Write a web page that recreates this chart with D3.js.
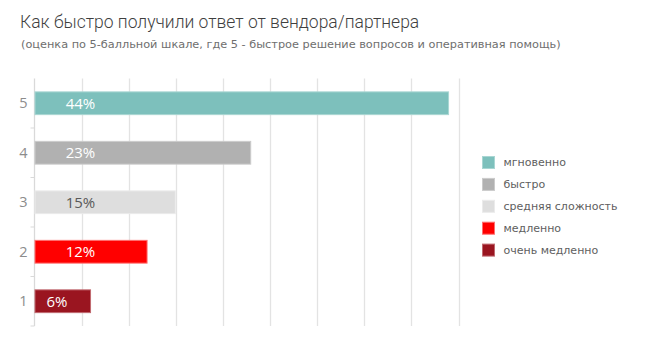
<!DOCTYPE html>
<html>
<head>
<meta charset="utf-8">
<script src="https://cdn.jsdelivr.net/npm/d3@7"></script>
<style>
  html, body { margin: 0; padding: 0; background: #fff; }
  svg { display: block; }
</style>
</head>
<body>
<svg id="chart" width="650" height="348"></svg>
<script>
// Ratings on a 5-point scale and the share of answers for each
const ratings = ["5", "4", "3", "2", "1"];
const shares = [44, 23, 15, 12, 6];
const legendNames = ["мгновенно", "быстро", "средняя сложность", "медленно", "очень медленно"];
const fills = ["#7dc0bc", "#b1b1b1", "#dedede", "#ff0000", "#9a1520"];
const strokes = ["#a9d6d3", "#cbcbcb", "#ebebeb", "#ff7070", "#c06a70"];
const labelColors = ["#ffffff", "#ffffff", "#595959", "#ffffff", "#ffffff"];
const xTicks = d3.range(0, 46, 5);

const svg = d3.select("#chart");

svg.append("text")
  .attr("x", 20).attr("y", 28)
  .attr("font-family", "Roboto, 'Open Sans', sans-serif")
  .attr("font-weight", 300)
  .attr("font-size", 17.5)
  .attr("fill", "#3f3f3f")
  .text("Как быстро получили ответ от вендора/партнера");

svg.append("text")
  .attr("x", 21).attr("y", 47.5)
  .attr("font-family", "'DejaVu Sans', sans-serif")
  .attr("font-size", 11.3)
  .attr("fill", "#6e6e6e")
  .text("(оценка по 5-балльной шкале, где 5 - быстрое решение вопросов и оперативная помощь)");

const plot = { left: 34.5, right: 458.5, top: 78.5, bottom: 326 };

const x = d3.scaleLinear().domain([0, 45]).range([plot.left, plot.right]);
const y = d3.scaleBand().domain(ratings).range([plot.top, plot.bottom]).paddingInner(0.54).paddingOuter(0.27);
const yTicks = d3.scaleBand().domain(ratings).range([plot.top, plot.bottom]);

// vertical gridlines
svg.append("g")
  .selectAll("line")
  .data(xTicks.slice(1))
  .join("line")
  .attr("x1", d => Math.round(x(d)) + 0.5)
  .attr("x2", d => Math.round(x(d)) + 0.5)
  .attr("y1", plot.top)
  .attr("y2", plot.bottom)
  .attr("stroke", "#e3e3e3")
  .attr("stroke-width", 1.3);

// left axis line with category ticks
const axis = svg.append("g");
axis.append("line")
  .attr("x1", plot.left).attr("x2", plot.left)
  .attr("y1", plot.top).attr("y2", plot.bottom)
  .attr("stroke", "#d9d9d9").attr("stroke-width", 1.3);
axis.selectAll("line.tick")
  .data(ratings)
  .join("line")
  .attr("class", "tick")
  .attr("x1", plot.left - 4).attr("x2", plot.left)
  .attr("y1", d => yTicks(d) + yTicks.bandwidth())
  .attr("y2", d => yTicks(d) + yTicks.bandwidth())
  .attr("stroke", "#d9d9d9").attr("stroke-width", 1);
axis.selectAll("text")
  .data(ratings)
  .join("text")
  .attr("x", plot.left - 7)
  .attr("y", d => y(d) + y.bandwidth() / 2)
  .attr("dy", "0.36em")
  .attr("text-anchor", "end")
  .attr("font-family", "'Open Sans', sans-serif")
  .attr("font-size", 14.5)
  .attr("fill", "#8c8c8c")
  .text(d => d);

// bars
svg.append("g")
  .selectAll("rect")
  .data(shares)
  .join("rect")
  .attr("x", x(0) + 0.5)
  .attr("y", (d, i) => y(ratings[i]))
  .attr("width", d => x(d) - x(0) - 1)
  .attr("height", y.bandwidth())
  .attr("fill", (d, i) => fills[i])
  .attr("stroke", (d, i) => strokes[i])
  .attr("stroke-width", 1);

// value labels inside bars
svg.append("g")
  .selectAll("text")
  .data(shares)
  .join("text")
  .attr("x", d => Math.min(x(d) - 34, x(0) + 46))
  .attr("y", (d, i) => y(ratings[i]) + y.bandwidth() / 2)
  .attr("dy", "0.36em")
  .attr("text-anchor", "middle")
  .attr("font-family", "'Open Sans', sans-serif")
  .attr("font-size", 15)
  .attr("fill", (d, i) => labelColors[i])
  .text(d => d + "%");

// legend
const legend = svg.append("g").attr("transform", "translate(482,156)");
const items = legend.selectAll("g")
  .data(legendNames)
  .join("g")
  .attr("transform", (d, i) => `translate(0,${i * 21.9})`);
items.append("rect")
  .attr("x", 0.5).attr("y", 0.5)
  .attr("width", 12).attr("height", 12)
  .attr("fill", (d, i) => fills[i])
  .attr("stroke", (d, i) => strokes[i]);
items.append("text")
  .attr("x", 21.5)
  .attr("y", 6.5)
  .attr("dy", "0.35em")
  .attr("font-family", "'DejaVu Sans', sans-serif")
  .attr("font-size", 11)
  .attr("fill", "#5e5e5e")
  .text(d => d);
</script>
</body>
</html>
